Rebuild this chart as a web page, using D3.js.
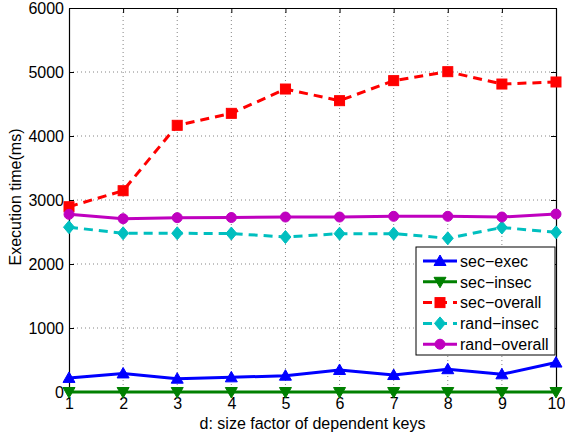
<!DOCTYPE html>
<html>
<head>
<meta charset="utf-8">
<script src="https://cdn.jsdelivr.net/npm/d3@7"></script>
<style>
  html, body { margin: 0; padding: 0; background: #fff; }
  svg { display: block; font-family: "Liberation Sans", Arial, sans-serif; }
</style>
</head>
<body>
<svg id="chart" width="565" height="437"></svg>
<script>
// Size factor d of dependent keys
const dValues = [1, 2, 3, 4, 5, 6, 7, 8, 9, 10];
// Execution time (ms) per series
const secExec = [220, 290, 208, 229, 255, 344, 265, 356, 276, 460];
const secInsec = [0, 0, 0, 0, 0, 0, 0, 0, 0, 0];
const secOverall = [2895, 3145, 4167, 4354, 4734, 4552, 4865, 5005, 4812, 4844];
const randInsec = [2575, 2480, 2480, 2476, 2422, 2474, 2474, 2402, 2570, 2495];
const randOverall = [2776, 2708, 2724, 2726, 2734, 2734, 2745, 2745, 2734, 2780];
const yTicks = [0, 1000, 2000, 3000, 4000, 5000, 6000];
const seriesNames = ["sec\u2212exec", "sec\u2212insec", "sec\u2212overall", "rand\u2212insec", "rand\u2212overall"];

const series = [
  { name: seriesNames[0], values: secExec, color: "#0000ff", dash: null, marker: "triUp" },
  { name: seriesNames[1], values: secInsec, color: "#008000", dash: null, marker: "triDown" },
  { name: seriesNames[2], values: secOverall, color: "#ff0000", dash: "9,6", marker: "square" },
  { name: seriesNames[3], values: randInsec, color: "#00bfbf", dash: "9,6", marker: "diamond" },
  { name: seriesNames[4], values: randOverall, color: "#bf00bf", dash: null, marker: "circle" }
];

const svg = d3.select("#chart");
const plotL = 69, plotR = 556, plotT = 8, plotB = 392;
const fontSize = 16;

const x = d3.scaleLinear().domain([1, 10]).range([plotL, plotR]);
const y = d3.scaleLinear().domain([0, 6000]).range([plotB, plotT]);

// dotted grid
const grid = svg.append("g");
grid.selectAll("line.gx").data(dValues.slice(1, -1)).enter().append("line")
  .attr("x1", d => x(d)).attr("x2", d => x(d)).attr("y1", plotT).attr("y2", plotB)
  .attr("stroke", "#666").attr("stroke-width", 0.8).attr("stroke-dasharray", "1,3");
grid.selectAll("line.gy").data(yTicks.slice(1, -1)).enter().append("line")
  .attr("x1", plotL).attr("x2", plotR).attr("y1", d => y(d)).attr("y2", d => y(d))
  .attr("stroke", "#666").attr("stroke-width", 0.8).attr("stroke-dasharray", "1,3");

// axes with inward ticks on all four sides
const tickLen = 5;
const axB = svg.append("g").attr("transform", `translate(0,${plotB})`)
  .call(d3.axisBottom(x).tickValues(dValues).tickFormat(d3.format("d")).tickSizeInner(-tickLen).tickSizeOuter(0).tickPadding(8));
const axT = svg.append("g").attr("transform", `translate(0,${plotT})`)
  .call(d3.axisTop(x).tickValues(dValues).tickFormat("").tickSizeInner(-tickLen).tickSizeOuter(0));
const axL = svg.append("g").attr("transform", `translate(${plotL},0)`)
  .call(d3.axisLeft(y).tickValues(yTicks).tickFormat(d3.format("d")).tickSizeInner(-tickLen).tickSizeOuter(0).tickPadding(5));
const axR = svg.append("g").attr("transform", `translate(${plotR},0)`)
  .call(d3.axisRight(y).tickValues(yTicks).tickFormat("").tickSizeInner(-tickLen).tickSizeOuter(0));

[axB, axT, axL, axR].forEach(a => {
  a.select(".domain").attr("stroke", "#000").attr("stroke-width", 1.2);
  a.selectAll(".tick line").attr("stroke", "#000");
  a.selectAll("text").attr("fill", "#000").attr("font-size", fontSize)
    .attr("font-family", "'Liberation Sans', Arial, sans-serif");
});
axB.selectAll("text").attr("dy", "0.55em");
axL.selectAll("text").attr("dy", "0.36em");

// axis titles
svg.append("text").attr("x", (plotL + plotR) / 2).attr("y", 429)
  .attr("text-anchor", "middle").attr("font-size", fontSize).text("d: size factor of dependent keys");
svg.append("text").attr("transform", `translate(21,${(plotT + plotB) / 2 - 3}) rotate(-90)`)
  .attr("text-anchor", "middle").attr("font-size", fontSize).text("Execution time(ms)");

// marker shapes
function drawMarker(g, kind, cx, cy, color) {
  if (kind === "square") {
    g.append("rect").attr("x", cx - 5).attr("y", cy - 5).attr("width", 10).attr("height", 10)
      .attr("fill", color).attr("stroke", color).attr("stroke-width", 1);
  } else if (kind === "circle") {
    g.append("circle").attr("cx", cx).attr("cy", cy).attr("r", 5)
      .attr("fill", color).attr("stroke", color).attr("stroke-width", 1);
  } else if (kind === "diamond") {
    g.append("path").attr("d", `M${cx},${cy - 6.5}L${cx + 5.5},${cy}L${cx},${cy + 6.5}L${cx - 5.5},${cy}Z`)
      .attr("fill", color).attr("stroke", color).attr("stroke-width", 1);
  } else if (kind === "triUp") {
    g.append("path").attr("d", `M${cx},${cy - 6}L${cx + 6},${cy + 4.5}L${cx - 6},${cy + 4.5}Z`)
      .attr("fill", color).attr("stroke", color).attr("stroke-width", 1);
  } else if (kind === "triDown") {
    g.append("path").attr("d", `M${cx},${cy + 6}L${cx + 6},${cy - 4.5}L${cx - 6},${cy - 4.5}Z`)
      .attr("fill", color).attr("stroke", color).attr("stroke-width", 1);
  }
}

const line = d3.line().x((d, i) => x(dValues[i])).y(d => y(d));

series.forEach(s => {
  const g = svg.append("g");
  g.append("path").datum(s.values).attr("d", line)
    .attr("fill", "none").attr("stroke", s.color).attr("stroke-width", 3)
    .attr("stroke-dasharray", s.dash).attr("stroke-linejoin", "round");
  s.values.forEach((v, i) => drawMarker(g, s.marker, x(dValues[i]), y(v), s.color));
});

// legend
const lg = svg.append("g");
const lgX = 416, lgY = 247, lgW = 139, lgH = 108;
lg.append("rect").attr("x", lgX).attr("y", lgY).attr("width", lgW).attr("height", lgH)
  .attr("fill", "#fff").attr("stroke", "#000").attr("stroke-width", 1);
series.forEach((s, i) => {
  const cy = lgY + 14 + i * 20.8;
  lg.append("line").attr("x1", lgX + 7).attr("x2", lgX + 41).attr("y1", cy).attr("y2", cy)
    .attr("stroke", s.color).attr("stroke-width", 3).attr("stroke-dasharray", s.dash);
  drawMarker(lg, s.marker, lgX + 24, cy, s.color);
  lg.append("text").attr("x", lgX + 44).attr("y", cy).attr("dy", "0.36em")
    .attr("font-size", fontSize).attr("fill", "#000").text(s.name);
});
</script>
</body>
</html>
